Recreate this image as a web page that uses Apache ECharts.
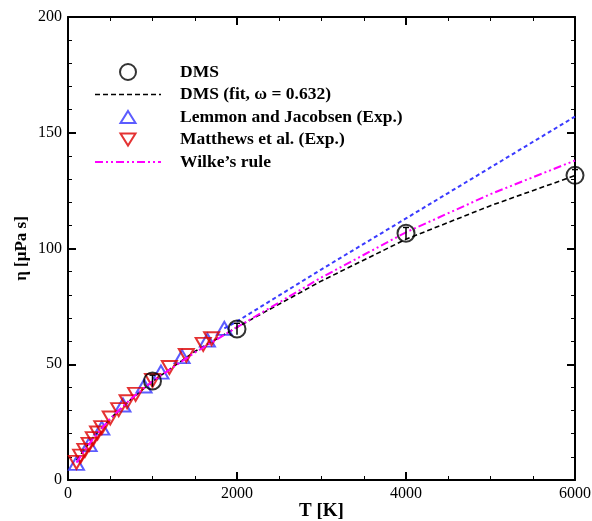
<!DOCTYPE html>
<html><head><meta charset="utf-8">
<script src="https://cdn.jsdelivr.net/npm/echarts@6/dist/echarts.min.js"></script>
<style>html,body{margin:0;padding:0;background:#fff}#c{width:592px;height:521px}</style>
</head><body><div id="c"></div>
<script>
// DMS simulation points
const dmsT = [1000, 2000, 4000, 6000];
const dmsEta = [42.8, 65.2, 106.6, 131.6];
const dmsErr = [2.5, 2.5, 2.5, 2.5];
// DMS fit (omega = 0.632)
const fitT = [100, 200, 300, 500, 750, 1000, 1500, 2000, 3000, 4000, 5000, 6000];
const fitEta = [8.5, 13.5, 18.5, 26.5, 35.0, 42.6, 55.5, 66.0, 86.0, 104.0, 118.5, 131.5];
// Lemmon and Jacobsen (Exp.)
const lemT = [100, 250, 400, 650, 900, 1100, 1350, 1650, 1850];
const lemEta = [7.2, 15.3, 22.4, 32.4, 40.6, 46.6, 53.3, 60.4, 65.5];
// Lemmon extrapolation (blue dashed)
const lemExtT = [1850, 2000, 3000, 4000, 5000, 6000];
const lemExtEta = [65.5, 68.5, 91.0, 113.0, 135.0, 157.0];
// Matthews et al. (Exp.)
const matT = [100, 150, 200, 250, 300, 350, 400, 500, 600, 700, 800, 1000, 1200, 1400, 1600, 1700];
const matEta = [7.6, 10.3, 12.8, 15.4, 17.9, 20.3, 22.6, 26.8, 30.4, 33.8, 37.0, 43.0, 48.6, 53.8, 58.6, 61.0];
// Wilke's rule
const wilT = [100, 200, 300, 500, 750, 1000, 1500, 2000, 3000, 4000, 5000, 6000];
const wilEta = [7.5, 13.0, 18.0, 26.6, 35.2, 42.7, 55.0, 66.0, 87.5, 107.0, 123.5, 138.0];

const xTicks = [0, 2000, 4000, 6000];
const yTicks = [0, 50, 100, 150, 200];

const zip = (a, b) => a.map((v, i) => [v, b[i]]);
const serif = '"Liberation Serif","Times New Roman",serif';

// legend icon path builders (styling only)
function dashIcon(pattern, width, th) {
  let s = 'path://', x = 0, k = 0;
  while (x < width) {
    const seg = pattern[k % pattern.length];
    if (k % 2 === 0) { const w = Math.min(seg, width - x); s += `M${x},0h${w}v${th}h${-w}z `; }
    x += seg; k++;
  }
  return s;
}
const triUpIcon = 'path://M7.5,-2 M7.5,0 L15,12 L0,12 Z M7.5,14';
const triDownIcon = 'path://M7.5,-2 M0,0 L15,0 L7.5,12 Z M7.5,14';

const chart = echarts.init(document.getElementById('c'));
const axisLine = {show: true, onZero: false, lineStyle: {color: '#000', width: 2}};
const axisTick = {show: true, inside: true, length: 8, lineStyle: {color: '#000', width: 2}};
const minorX = {show: true, splitNumber: 4, length: 4, lineStyle: {color: '#000', width: 1}};
const minorY = {show: true, splitNumber: 5, length: 4, lineStyle: {color: '#000', width: 1}};
chart.setOption({
  animation: false,
  backgroundColor: '#fff',
  grid: {left: 68, right: 17, top: 17, bottom: 41, outerBoundsMode: 'none', containLabel: false},
  legend: {
    orient: 'vertical', left: 90, top: 58,
    itemWidth: 66, itemHeight: 16, itemGap: 4.5,
    textStyle: {fontFamily: serif, fontWeight: 'bold', fontSize: 17.5, color: '#000', padding: [0, 0, 0, 14]},
    data: [
      {name: 'DMS', icon: 'emptyCircle', itemStyle: {color: '#000', borderColor: '#000', borderWidth: 2}},
      {name: 'DMS (fit, ω = 0.632)', icon: dashIcon([5, 3], 66, 1.6), itemStyle: {color: '#000', borderWidth: 0}},
      {name: 'Lemmon and Jacobsen (Exp.)', icon: triUpIcon,
        itemStyle: {color: 'rgba(0,0,0,0)', borderColor: '#3333ff', borderWidth: 2}},
      {name: 'Matthews et al. (Exp.)', icon: triDownIcon,
        itemStyle: {color: 'rgba(0,0,0,0)', borderColor: '#dd0000', borderWidth: 2}},
      {name: 'Wilke’s rule', icon: dashIcon([8, 3, 2, 3, 2, 3], 66, 2), itemStyle: {color: '#ff00ff', borderWidth: 0}}
    ]
  },
  xAxis: [
    {type: 'value', min: 0, max: 6000, interval: 2000, position: 'bottom',
      axisLine, axisTick, minorTick: minorX, splitLine: {show: false},
      axisLabel: {fontFamily: serif, fontSize: 16, color: '#000', margin: 6,
        formatter: v => xTicks.includes(v) ? String(v) : ''},
      name: 'T [K]', nameLocation: 'middle', nameGap: 22, nameMoveOverlap: false,
      nameTextStyle: {fontFamily: serif, fontWeight: 'bold', fontSize: 19, color: '#000'}},
    {type: 'value', min: 0, max: 6000, interval: 2000, position: 'top',
      axisLine, axisTick, minorTick: minorX, splitLine: {show: false}, axisLabel: {show: false}}
  ],
  yAxis: [
    {type: 'value', min: 0, max: 200, interval: 50, position: 'left',
      axisLine, axisTick, minorTick: minorY, splitLine: {show: false},
      axisLabel: {fontFamily: serif, fontSize: 16, color: '#000', margin: 6,
        formatter: v => yTicks.includes(v) ? String(v) : ''},
      name: 'η [μPa s]', nameLocation: 'middle', nameGap: 38, nameMoveOverlap: false,
      nameTextStyle: {fontFamily: serif, fontWeight: 'bold', fontSize: 17, color: '#000'}},
    {type: 'value', min: 0, max: 200, interval: 50, position: 'right',
      axisLine, axisTick, minorTick: minorY, splitLine: {show: false}, axisLabel: {show: false}}
  ],
  series: [
    {name: 'DMS (fit, ω = 0.632)', type: 'line', data: zip(fitT, fitEta), symbol: 'none',
      lineStyle: {color: '#000', width: 1.6, type: [5, 3]}, itemStyle: {color: '#000'}, z: 2},
    {name: 'Lemmon extrapolation', type: 'line', data: zip(lemExtT, lemExtEta), symbol: 'none',
      lineStyle: {color: '#3b3bff', width: 2, type: [4, 3]}, itemStyle: {color: '#3b3bff'}, z: 2},
    {name: 'Lemmon and Jacobsen (Exp.)', type: 'scatter', data: zip(lemT, lemEta), symbol: 'triangle', symbolSize: [15, 13],
      itemStyle: {color: 'rgba(0,0,0,0)', borderColor: '#3333ff', borderWidth: 2}, z: 3},
    {name: 'Matthews et al. (Exp.)', type: 'scatter', data: zip(matT, matEta), symbol: 'triangle', symbolRotate: 180, symbolSize: [15, 13],
      itemStyle: {color: 'rgba(0,0,0,0)', borderColor: '#dd0000', borderWidth: 2}, z: 4},
    {name: 'Wilke’s rule', type: 'line', data: zip(wilT, wilEta), symbol: 'none',
      lineStyle: {color: '#ff00ff', width: 2, type: [8, 3, 2, 3, 2, 3]}, itemStyle: {color: '#ff00ff'}, z: 5},
    {name: 'DMS', type: 'scatter', data: zip(dmsT, dmsEta), symbol: 'circle', symbolSize: 17,
      itemStyle: {color: 'rgba(0,0,0,0)', borderColor: '#000', borderWidth: 2}, z: 6},
    {name: 'DMS err', type: 'custom', data: dmsT.map((t, i) => [t, dmsEta[i], dmsErr[i]]), z: 6,
      renderItem: (params, api) => {
        const x = api.value(0), y = api.value(1), e = api.value(2);
        const p1 = api.coord([x, y - e]), p2 = api.coord([x, y + e]);
        const c = api.coord([x, y]);
        return {type: 'group', children: [
          {type: 'line', shape: {x1: p1[0], y1: p1[1], x2: p2[0], y2: p2[1]}, style: {stroke: '#000', lineWidth: 1.5}},
          {type: 'line', shape: {x1: c[0] - 3, y1: p2[1], x2: c[0] + 3, y2: p2[1]}, style: {stroke: '#000', lineWidth: 1.5}}
        ]};
      }}
  ]
});
</script></body></html>
